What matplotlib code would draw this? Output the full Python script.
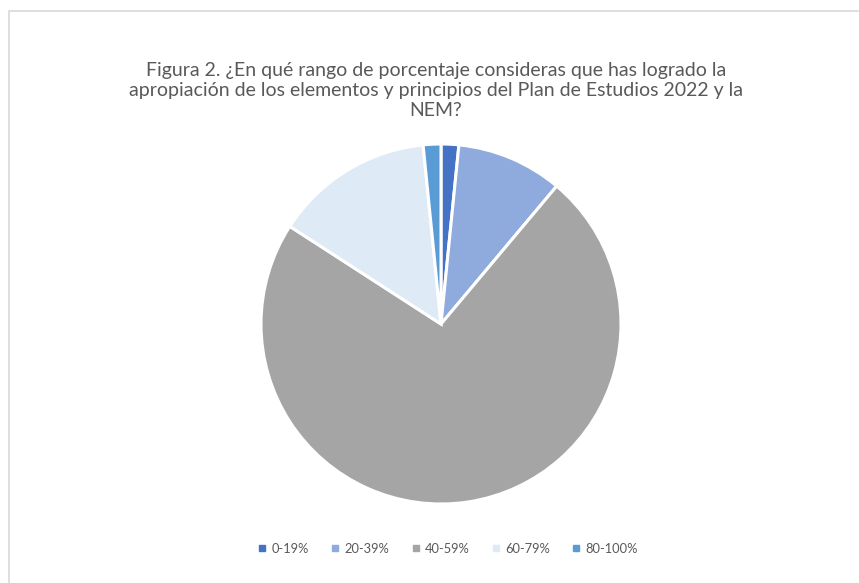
import matplotlib
matplotlib.use("Agg")
import matplotlib.pyplot as plt
from matplotlib.patches import Rectangle
from matplotlib.lines import Line2D

categories = ["0-19%", "20-39%", "40-59%", "60-79%", "80-100%"]
values = [1, 6, 46, 9, 1]
colors = ["#4472C4", "#8FAADC", "#A5A5A5", "#DEEBF7", "#5B9BD5"]
title = ("Figura 2. ¿En qué rango de porcentaje consideras que has logrado la\n"
         "apropiación de los elementos y principios del Plan de Estudios 2022 y la\n"
         "NEM?")

W, H = 859, 583
fig = plt.figure(figsize=(W / 100, H / 100), dpi=100)
fig.patch.set_facecolor("white")
plt.rcParams['font.family'] = ['Lato', 'DejaVu Sans']

# chart border
fig.add_artist(Rectangle((9 / W, -0.1), 1.2, 1 - 11 / H + 0.1, transform=fig.transFigure,
                         fill=False, edgecolor="#D9D9D9", linewidth=1.2))

cx, cy, r = 441, 324, 180
ax = fig.add_axes([(cx - r) / W, 1 - (cy + r) / H, 2 * r / W, 2 * r / H])
ax.pie(values, colors=colors, startangle=90, counterclock=False,
       wedgeprops=dict(edgecolor="white", linewidth=2.2), radius=1.0)
ax.set_xlim(-1, 1)
ax.set_ylim(-1, 1)
ax.set_aspect("equal")
ax.axis("off")

fig.text(436 / W, 1 - 62 / H, title, ha="center", va="top", fontsize=14,
         color="#595959", linespacing=1.22)

handles = [Line2D([], [], marker="s", linestyle="none", markersize=4.5,
                  markerfacecolor=c, markeredgecolor=c) for c in colors]
fig.legend(handles, categories, loc="center", bbox_to_anchor=(447 / W, 1 - 549 / H),
           ncol=5, frameon=False, fontsize=9.3, labelcolor="#595959",
           handletextpad=0.2, columnspacing=1.55, handlelength=1.0)

fig.savefig("out.png", dpi=100, facecolor="white")
